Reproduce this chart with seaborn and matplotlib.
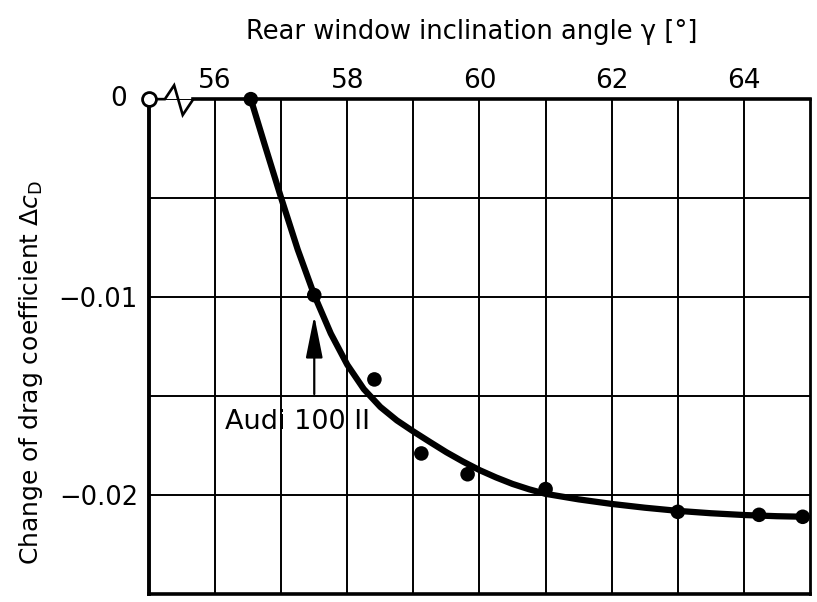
import matplotlib
matplotlib.use("Agg")
import matplotlib.pyplot as plt
import seaborn as sns
import pandas as pd

# Measured drag change versus rear window inclination
gamma_meas = [56.54, 57.5, 58.41, 59.12, 59.82, 61.0, 63.0, 64.23, 64.89]
dcd_meas = [0.0, -0.0099, -0.01416, -0.0179, -0.01895, -0.0197, -0.02085, -0.0210, -0.0211]

# Faired curve through the measurements
gamma_curve = [56.54, 56.75, 57.0, 57.25, 57.5, 57.75, 58.0, 58.25, 58.5, 58.75,
               59.0, 59.25, 59.5, 59.75, 60.0, 60.25, 60.5, 60.75, 61.0, 61.5,
               62.0, 62.5, 63.0, 63.5, 64.0, 64.5, 64.95]
dcd_curve = [0.0, -0.0023, -0.0050, -0.0076, -0.0099, -0.01184, -0.01342, -0.01465,
             -0.01555, -0.01623, -0.01679, -0.01732, -0.01784, -0.01831, -0.01874,
             -0.01911, -0.01944, -0.01971, -0.01994, -0.02022, -0.02045, -0.02064,
             -0.0208, -0.02092, -0.02101, -0.02107, -0.0211]

x_ticks = [56, 57, 58, 59, 60, 61, 62, 63, 64]
x_tick_labels = ["56", "", "58", "", "60", "", "62", "", "64"]
y_ticks = [-0.025, -0.02, -0.015, -0.01, -0.005, 0.0]
y_tick_labels = ["", "\u22120.02", "", "\u22120.01", "", ""]

audi_gamma = 57.5
audi_label = "Audi 100 II"

meas = pd.DataFrame({"gamma": gamma_meas, "dcd": dcd_meas})
curve = pd.DataFrame({"gamma": gamma_curve, "dcd": dcd_curve})

sns.set_theme(style="white")
plt.rcParams["font.family"] = ["DejaVu Sans"]
plt.rcParams["mathtext.fontset"] = "dejavusans"

fig = plt.figure(figsize=(8.17, 6.02), dpi=100)
ax = fig.add_axes([0.1824, 0.0133, 0.809, 0.822])

ax.set_xlim(55, 65)
ax.set_ylim(-0.025, 0.0)

# grid
ax.set_xticks(x_ticks)
ax.set_xticklabels(x_tick_labels, fontsize=19)
ax.set_yticks(y_ticks)
ax.set_yticklabels(y_tick_labels, fontsize=18.5)
ax.xaxis.tick_top()
ax.tick_params(axis="both", length=0, colors="black")
ax.tick_params(axis="x", pad=4)
ax.tick_params(axis="y", pad=8)
ax.grid(True, color="black", linewidth=1.4)
ax.set_axisbelow(True)

for side in ["left", "bottom", "right", "top"]:
    ax.spines[side].set_visible(True)
    ax.spines[side].set_color("black")
ax.spines["left"].set_linewidth(2.8)
ax.spines["bottom"].set_linewidth(2.6)
ax.spines["right"].set_linewidth(2.0)
ax.spines["top"].set_linewidth(2.6)
ax.spines["top"].set_bounds(55.67, 65)

# axis break at the origin
ax.plot([55.0, 55.24, 55.38, 55.51, 55.67], [0.0, 0.0, 0.0007, -0.0008, 0.0],
        color="black", linewidth=1.9, clip_on=False, zorder=5,
        solid_joinstyle="miter")
ax.plot([55.0], [0.0], marker="o", markersize=10, markerfacecolor="white",
        markeredgecolor="black", markeredgewidth=2.0, clip_on=False, zorder=6)
ax.annotate("0", xy=(55.0, 0.0), xytext=(-16, 0), textcoords="offset points",
            ha="right", va="center", fontsize=19, color="black", annotation_clip=False)

sns.lineplot(data=curve, x="gamma", y="dcd", sort=False, estimator=None,
             color="black", linewidth=4.5, ax=ax, zorder=3,
             solid_joinstyle="round", solid_capstyle="round")
sns.scatterplot(data=meas, x="gamma", y="dcd", color="black", s=110,
                edgecolor="none", ax=ax, zorder=4, clip_on=False)

# Audi 100 II marker arrow
ax.annotate("", xy=(audi_gamma, -0.01094), xytext=(audi_gamma, -0.0149),
            arrowprops=dict(arrowstyle="-|>,head_length=1.3,head_width=0.26",
                            color="black", linewidth=1.6, mutation_scale=20,
                            shrinkA=0, shrinkB=0))
ax.text(57.24, -0.0163, audi_label, ha="center", va="center", fontsize=19.5,
        color="black")

ax.set_xlabel("")
ax.set_ylabel("")

fig.text(472 / 817, 1 - 32 / 602, "Rear window inclination angle \u03b3 [\u00b0]",
         ha="center", va="center", fontsize=18.5, color="black")
fig.text(31 / 817, 1 - 373 / 602, r"Change of drag coefficient $\mathit{\Delta c}_{\mathrm{D}}$",
         ha="center", va="center", rotation=90, fontsize=18, color="black")

fig.savefig("out.png", dpi=100, facecolor="white")
